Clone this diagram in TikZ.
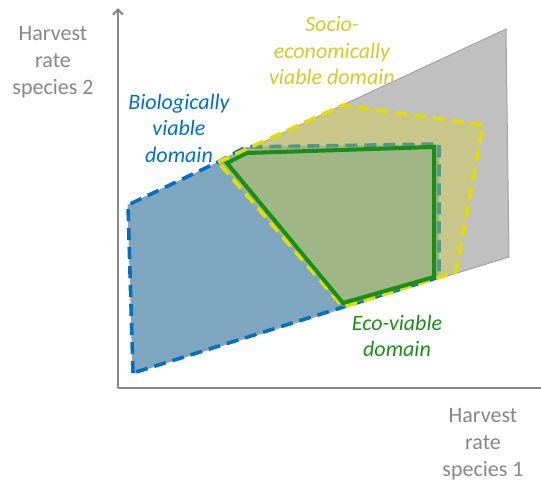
\documentclass[tikz,border=0pt]{standalone}
\usepackage{fontspec}
\setmainfont{Carlito}
\usetikzlibrary{arrows.meta}
\definecolor{axisgray}{RGB}{135,135,135}
\definecolor{planegray}{RGB}{192,192,192}
\definecolor{bioblue}{RGB}{0,112,192}
\definecolor{biofill}{RGB}{127,166,191}
\definecolor{socioyellow}{RGB}{228,222,0}
\definecolor{sociofill}{RGB}{214,207,52}
\definecolor{sociotext}{RGB}{212,202,40}
\definecolor{ecogreen}{RGB}{22,145,22}
\begin{document}
\begin{tikzpicture}[x=1pt,y=-1pt,
  dashedge/.style={line width=3.6pt,dash pattern=on 12pt off 7pt},
  lbl/.style={align=center,font=\fontsize{22}{26.5}\selectfont\itshape},
  axislbl/.style={align=center,text=axisgray,font=\fontsize{22}{27}\selectfont}]
  \useasboundingbox (0,0) rectangle (541,485);
  % harvest plane
  \draw[color=planegray!85!black,fill=planegray,line width=1pt]
  (128,205) -- (506,29) -- (509,257) -- (133,373) -- cycle;
  % biologically viable
  \draw[dashedge,color=bioblue,fill=biofill]
  (133,373) --
  (128,205) --
  (218,162) --
  (246,147) --
  (439,144) --
  (439,277) --
  cycle;
  % socio-economically viable
  \fill[sociofill,opacity=.4]
  (218,162) -- (343,105) -- (483,125) -- (456,272) -- (343,307) -- cycle;
  \draw[dashedge,color=socioyellow]
  (218,162) --
  (343,105) --
  (483,125) --
  (456,272) --
  (343,307) --
  cycle;
  % eco-viable
  \draw[color=ecogreen,line width=4pt]
  (227,163) --
  (247,153) --
  (434,147) --
  (434,277) --
  (343,303) --
  cycle;
  % axes
  \coordinate (origin) at (118,388);
  \coordinate (ytip) at (118,8);
  \coordinate (xend) at (541,388);
  \draw[color=axisgray,line width=2.2pt,-{Straight Barb[length=5pt,width=10pt]}] (origin) -- (ytip);
  \draw[color=axisgray,line width=2.2pt] (origin) -- (xend);
  % labels
  \node[axislbl] (ylabel) at (53,62) {Harvest\\rate\\species 2};
  \node[axislbl] (xlabel) at (483,444) {Harvest\\rate\\species 1};
  \node[lbl,text=bioblue] (biolabel) at (179,128) {Biologically\\viable\\domain};
  \node[lbl,text=sociotext] (sociolabel) at (332,51) {Socio-\\economically\\viable domain};
  \node[lbl,text=ecogreen] (ecolabel) at (397,336) {Eco-viable\\domain};
\end{tikzpicture}
\end{document}
